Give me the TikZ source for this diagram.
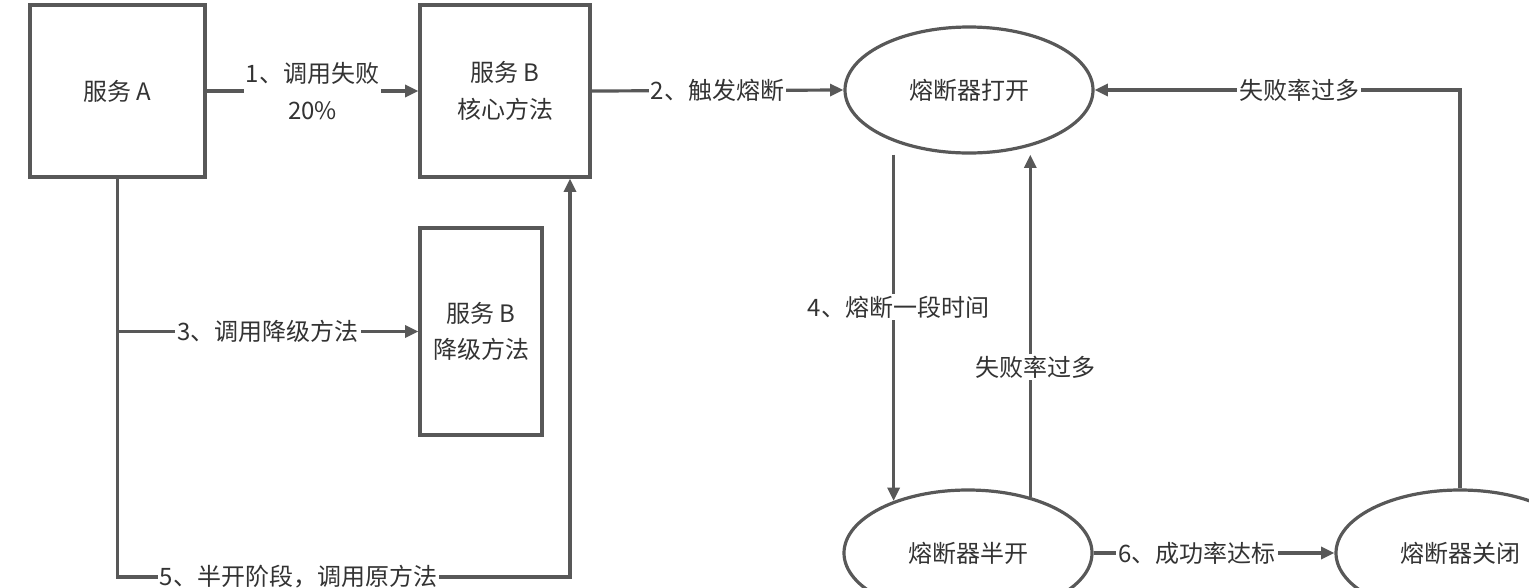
\documentclass[tikz,border=0pt]{standalone}
\usepackage{fontspec}
\setmainfont{Noto Sans CJK SC}
\usetikzlibrary{arrows.meta,shapes.geometric}
\definecolor{linegray}{RGB}{88,88,88}
\definecolor{textgray}{RGB}{51,51,51}
\tikzset{
  box/.style={draw=linegray, line width=2.4pt, inner sep=0pt, align=center, text=textgray},
  state/.style={ellipse, draw=linegray, line width=2.4pt, inner sep=0pt,
    minimum width=186pt, minimum height=94.5pt, text=textgray},
  arr/.style={draw=linegray, line width=2.4pt, -{Triangle[length=10pt,width=9pt]}},
  lbl/.style={fill=white, inner sep=1.5pt, text=textgray, align=center},
}

\begin{document}
\begin{tikzpicture}[x=0.75pt, y=-0.75pt, font=\fontsize{18}{27.5}\selectfont]
  \useasboundingbox (0,0) rectangle (1529,587);
  \clip (0,0) rectangle (1529,587);

  % services
  \begin{scope}
    \node[box, minimum width=131.25pt, minimum height=129pt] (srvA) at (117.5,91) {服务 A};
    \node[box, minimum width=127.5pt, minimum height=129pt] (core) at (505,91) {服务 B\\核心方法};
    \node[box, minimum width=91.5pt, minimum height=155.25pt] (degr) at (481,331.5) {服务 B\\降级方法};
  \end{scope}

  % breaker states
  \begin{scope}
    \node[state] (open) at (969,90) {熔断器打开};
    \node[state] (half) at (968,553) {熔断器半开};
    \node[state] (closed) at (1460,553) {熔断器关闭};
  \end{scope}

  \coordinate (back) at (570,577);

  \draw[arr] (srvA.east) -- node[lbl] {1、调用失败\\20\%} (core.west);
  \draw[arr] (core.east) -- node[lbl] {2、触发熔断} (open.west);
  \draw[arr] (srvA.south |- degr.west) -- node[lbl] {3、调用降级方法} (degr.west);
  \draw[arr] (srvA.south) |- node[lbl, pos=0.70] {5、半开阶段，调用原方法} (back) -- (back |- core.south);
  \draw[arr] (half.145 |- open.south) -- node[lbl, pos=0.44, xshift=3.75pt] {4、熔断一段时间} (half.145);
  \draw[arr] (half.42.6) -- node[lbl, pos=0.38, xshift=3.75pt] {失败率过多} (half.42.6 |- open.south);
  \draw[arr] (half.east) -- node[lbl, pos=0.43] {6、成功率达标} (closed.west);
  \draw[arr] (closed.north) |- node[lbl, pos=0.72] {失败率过多} (open.east);

\end{tikzpicture}
\end{document}
